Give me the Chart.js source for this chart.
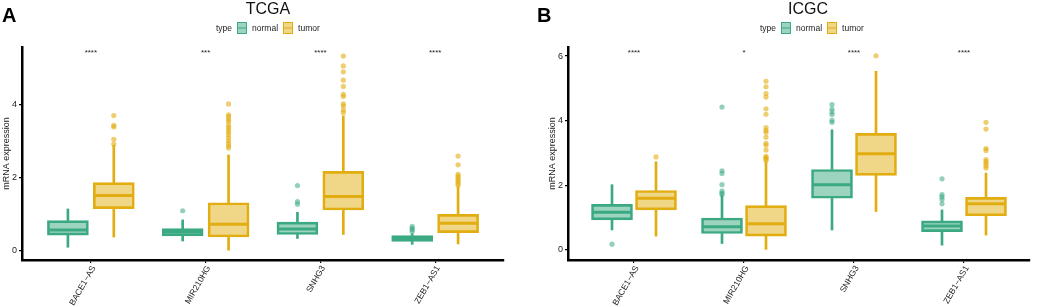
<!DOCTYPE html>
<html>
<head>
<meta charset="utf-8">
<script src="https://cdn.jsdelivr.net/npm/chart.js@4.4.0/dist/chart.umd.min.js"></script>
<style>
  body { margin: 0; background: #fff; font-family: "Liberation Sans", Arial, sans-serif; }
  #wrap { position: relative; width: 1052px; height: 307px; overflow: hidden; }
  .panel { position: absolute; top: 0; width: 526px; height: 307px; }
  .panel canvas { position: absolute; left: 0; top: 0; }
  .letter { position: absolute; top: 4px; font-size: 20px; font-weight: bold; color: #000; }
  .title { position: absolute; top: 0; font-size: 16px; color: #111; transform: translateX(-50%); }
  .legend { position: absolute; top: 22px; font-size: 8.5px; color: #222; display: flex; align-items: center; }
  .legend .key { width: 10px; height: 12px; box-sizing: border-box; border: 1.5px solid; margin: 0 5px 0 5px; position: relative; }
  .legend .key::after { content: ""; position: absolute; left: 0; right: 0; top: 4px; height: 1.5px; background: inherit; }
</style>
</head>
<body>
<div id="wrap">
  <div class="panel" style="left:0">
    <canvas id="chartA" width="526" height="307"></canvas>
    <div class="letter" style="left:2px">A</div>
    <div class="title" style="left:268px">TCGA</div>
    <div class="legend" style="left:216px"><span>type</span><span class="key" id="kA1"></span><span>normal</span><span class="key" id="kA2"></span><span>tumor</span></div>
  </div>
  <div class="panel" style="left:526px">
    <canvas id="chartB" width="526" height="307"></canvas>
    <div class="letter" style="left:11px">B</div>
    <div class="title" style="left:282px">ICGC</div>
    <div class="legend" style="left:234px"><span>type</span><span class="key" id="kB1"></span><span>normal</span><span class="key" id="kB2"></span><span>tumor</span></div>
  </div>
</div>
<script>
const genes = ['BACE1\u2212AS', 'MIR210HG', 'SNHG3', 'ZEB1\u2212AS1'];
const groups = ['normal', 'tumor'];

// TCGA box stats: [lower whisker, q1, median, q3, upper whisker]
const tcgaNormal = [
  [0.10, 0.43, 0.57, 0.83, 1.15],
  [0.27, 0.41, 0.52, 0.61, 0.85],
  [0.34, 0.45, 0.60, 0.79, 1.06],
  [0.18, 0.26, 0.33, 0.42, 0.47]
];
const tcgaTumor = [
  [0.38, 1.16, 1.52, 1.87, 2.90],
  [0.02, 0.38, 0.73, 1.32, 2.63],
  [0.45, 1.12, 1.49, 2.18, 3.70],
  [0.19, 0.50, 0.76, 1.00, 1.76]
];
const tcgaNormalOut = [
  [],
  [1.10],
  [1.79, 1.35, 1.28],
  [0.67, 0.62, 0.58, 0.53]
];
const tcgaTumorOut = [
  [3.71, 3.44, 3.40, 3.06, 2.93],
  [4.03, 3.73, 3.68, 3.60, 3.55, 3.45, 3.38, 3.32, 3.25, 3.18, 3.10, 3.02, 2.95, 2.88, 2.82],
  [5.34, 5.07, 4.91, 4.68, 4.51, 4.29, 4.23, 4.03, 3.97, 3.86, 3.79],
  [2.60, 2.36, 2.10, 2.05, 2.00, 1.95, 1.90, 1.85, 1.80]
];
const tcgaSig = ['****', '***', '****', '****'];

// ICGC box stats
const icgcNormal = [
  [0.62, 0.93, 1.17, 1.41, 2.02],
  [0.20, 0.51, 0.72, 0.99, 1.69],
  [0.62, 1.60, 2.02, 2.49, 3.72],
  [0.15, 0.57, 0.74, 0.90, 1.24]
];
const icgcTumor = [
  [0.43, 1.24, 1.60, 1.84, 2.73],
  [0.00, 0.43, 0.81, 1.37, 2.73],
  [1.19, 2.31, 2.98, 3.61, 5.53],
  [0.46, 1.06, 1.43, 1.63, 2.38]
];
const icgcNormalOut = [
  [0.18],
  [4.42, 2.45, 2.37, 2.02, 1.82, 1.76, 1.72],
  [4.50, 4.36, 4.27, 4.19, 4.01, 3.95],
  [2.20, 1.71, 1.64, 1.56, 1.43]
];
const icgcTumorOut = [
  [2.88],
  [5.22, 5.05, 4.84, 4.73, 4.37, 4.20, 3.79, 3.70, 3.64, 3.49, 3.30, 3.24, 3.09, 2.90, 2.86, 2.82, 2.78],
  [6.01],
  [3.95, 3.74, 3.14, 3.08, 2.80, 2.74, 2.68, 2.60, 2.54]
];
const icgcSig = ['****', '*', '****', '****'];

const tcgaTicks = [0, 2, 4];
const icgcTicks = [0, 2, 4, 6];

const green = 'rgb(59,170,130)';
const greenFill = 'rgba(59,170,130,0.5)';
const greenPt = 'rgba(59,170,130,0.55)';
const gold = 'rgb(226,173,16)';
const goldFill = 'rgba(226,173,16,0.5)';
const goldPt = 'rgba(226,173,16,0.6)';

const FONT = '"Liberation Sans", Arial, sans-serif';
const DODGE = 0.2;

function boxDatasets(stats, outs, offset, stroke, fill, pt) {
  const whisk = [];
  stats.forEach((s, i) => {
    whisk.push({ x: i + 1 + offset, y: [s[0], s[1]] });
    whisk.push({ x: i + 1 + offset, y: [s[3], s[4]] });
  });
  const pts = [];
  outs.forEach((arr, i) => arr.forEach(v => pts.push({ x: i + 1 + offset, y: v })));
  return [
    {
      type: 'bar', data: whisk, grouped: false, barThickness: 2,
      backgroundColor: stroke, borderWidth: 0, order: 3
    },
    {
      type: 'bar', data: stats.map((s, i) => ({ x: i + 1 + offset, y: [s[1], s[3]] })),
      grouped: false, barThickness: 41, backgroundColor: fill,
      borderColor: stroke, borderWidth: 2, borderSkipped: false, order: 2
    },
    {
      type: 'scatter', data: stats.map((s, i) => ({ x: i + 1 + offset, y: s[2] })),
      pointStyle: 'line', radius: 19, borderWidth: 3, borderColor: stroke, order: 1
    },
    {
      type: 'scatter', data: pts, pointStyle: 'circle', radius: 2.6,
      backgroundColor: pt, borderWidth: 0, order: 0
    }
  ];
}

const sigPlugin = {
  id: 'sig',
  afterDatasetsDraw(chart, args, opts) {
    const ctx = chart.ctx;
    const xs = chart.scales.x;
    ctx.save();
    ctx.font = '8px ' + FONT;
    ctx.fillStyle = '#222';
    ctx.textAlign = 'center';
    ctx.textBaseline = 'middle';
    opts.labels.forEach((t, i) => {
      ctx.fillText(t, xs.getPixelForValue(i + 1), chart.chartArea.top + 6);
    });
    ctx.restore();
  }
};

function makeChart(id, normal, tumor, nOut, tOut, sig, yMin, yMax, yTicks, padLeft, padRight) {
  const datasets = [
    ...boxDatasets(normal, nOut, -DODGE, green, greenFill, greenPt),
    ...boxDatasets(tumor, tOut, DODGE, gold, goldFill, goldPt)
  ];
  return new Chart(document.getElementById(id), {
    type: 'bar',
    data: { datasets: datasets },
    plugins: [sigPlugin],
    options: {
      responsive: false,
      animation: false,
      layout: { padding: { left: padLeft, right: padRight, top: 47, bottom: 0 } },
      plugins: {
        legend: { display: false },
        tooltip: { enabled: false },
        sig: { labels: sig }
      },
      scales: {
        x: {
          type: 'linear', min: 0.4, max: 4.6, offset: false,
          afterBuildTicks: s => { s.ticks = genes.map((g, i) => ({ value: i + 1 })); },
          afterFit: s => { s.height = 47; },
          ticks: {
            callback: (v) => genes[v - 1] || '',
            maxRotation: 60, minRotation: 60, autoSkip: false,
            color: '#222', padding: 1, labelOffset: 3,
            font: { family: FONT, size: 8.5 }
          },
          grid: { offset: false, drawOnChartArea: false, drawTicks: true, tickLength: 3, color: '#000', lineWidth: 1.2 },
          border: { display: true, color: '#000', width: 2.5 }
        },
        y: {
          min: yMin, max: yMax,
          afterBuildTicks: s => { s.ticks = yTicks.map(v => ({ value: v })); },
          afterFit: s => { s.width = 22; },
          ticks: { color: '#222', padding: 2, font: { family: FONT, size: 9 } },
          grid: { drawOnChartArea: false, drawTicks: true, tickLength: 3, color: '#000', lineWidth: 1.2 },
          border: { display: true, color: '#000', width: 2.5 },
          title: {
            display: true, text: 'mRNA expression', color: '#222',
            padding: { top: 1, bottom: 0 },
            font: { family: FONT, size: 9 }
          }
        }
      }
    }
  });
}

makeChart('chartA', tcgaNormal, tcgaTumor, tcgaNormalOut, tcgaTumorOut, tcgaSig, -0.25, 5.59, tcgaTicks, 0, 18);
makeChart('chartB', icgcNormal, icgcTumor, icgcNormalOut, icgcTumorOut, icgcSig, -0.31, 6.28, icgcTicks, 20, 3);

[['kA1', green, greenFill], ['kA2', gold, goldFill], ['kB1', green, greenFill], ['kB2', gold, goldFill]].forEach(k => {
  const el = document.getElementById(k[0]);
  el.style.borderColor = k[1];
  el.style.background = k[2];
});
</script>
</body>
</html>
